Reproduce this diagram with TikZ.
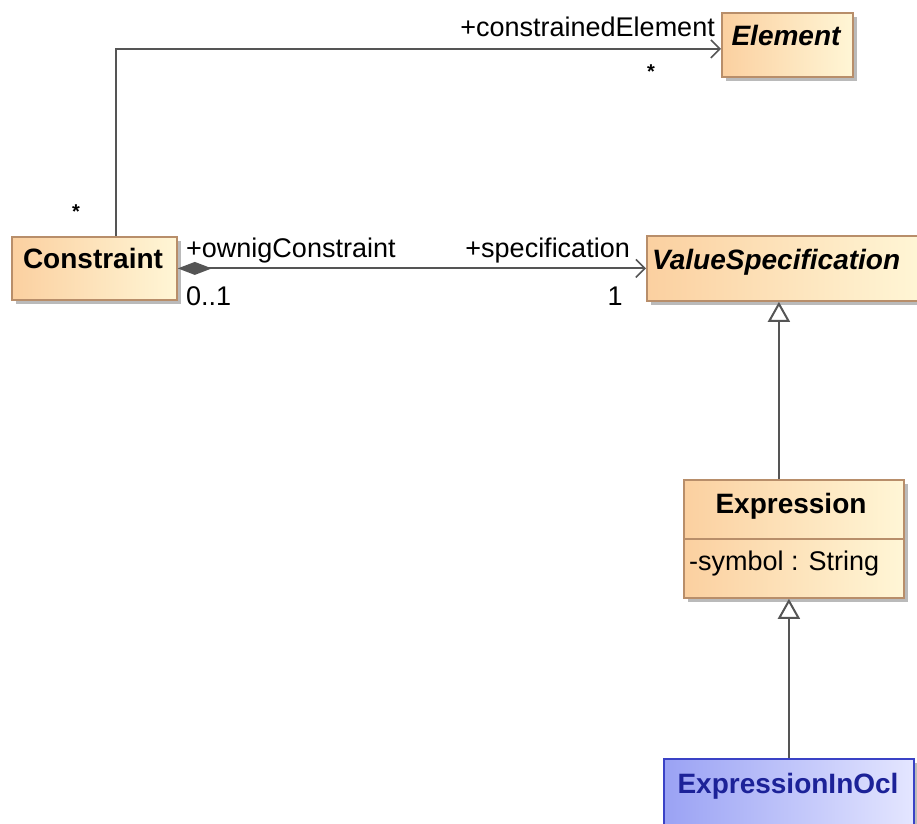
\documentclass[tikz,border=0pt]{standalone}
\usepackage{fontspec}
\setmainfont{Liberation Sans}
\usetikzlibrary{arrows.meta,shadows}
\definecolor{orL}{HTML}{FBD0A0}
\definecolor{orR}{HTML}{FFF6D6}
\definecolor{orB}{HTML}{B88E6A}
\definecolor{blL}{HTML}{9AA2F4}
\definecolor{blR}{HTML}{E4E6FF}
\definecolor{blB}{HTML}{3A42C6}
\definecolor{blT}{HTML}{1C2298}
\definecolor{lnG}{HTML}{555555}
\begin{document}
\begin{tikzpicture}[x=1pt,y=-1pt,
  box/.style={rectangle, inner sep=0pt, anchor=north west, line width=1.8pt,
    drop shadow={shadow xshift=4pt, shadow yshift=-4pt, fill=black!45, opacity=0.6}},
  cls/.style={box, draw=orB, left color=orL, right color=orR},
  ocls/.style={box, draw=blB, left color=blL, right color=blR},
  nm/.style={inner sep=0pt, anchor=base, font=\fontsize{28}{30}\selectfont\bfseries},
  lbl/.style={inner sep=0pt, font=\fontsize{27}{30}\selectfont},
  stl/.style={inner sep=0pt, font=\fontsize{20}{22}\selectfont\bfseries},
  ln/.style={draw=lnG, line width=2pt},
  gen/.style={ln, -{Triangle[open, length=20pt, width=22pt, fill=white]}},
  barb/.style={-{Straight Barb[length=9pt, width=18pt, line width=1.6pt]}}
]
\useasboundingbox (0,0) rectangle (917,823);

% boxes
\node[cls, minimum width=131pt, minimum height=64pt] (elem) at (721,12) {};
\node[cls, minimum width=165pt, minimum height=63pt] (cons) at (11,236) {};
\node[cls, minimum width=276pt, minimum height=65pt] (vs) at (646,235) {};
\node[cls, minimum width=220pt, minimum height=118pt] (expr) at (683,479) {};
\node[ocls, minimum width=250pt, minimum height=80pt] (ocl) at (663,758) {};
\draw[draw=orB, line width=1.8pt] ([yshift=-60pt]expr.north west) -- ([yshift=-60pt]expr.north east);

% names
\node[nm] (elemT) at (786,45) {\itshape Element};
\node[nm] (consT) at (93,268) {Constraint};
\node[nm, anchor=base west] (vsT) at (652,269) {\itshape ValueSpecification};
\node[nm] (exprT) at (791,513) {Expression};
\node[lbl, anchor=base west] (exprA) at (689,570) {-symbol : String};
\node[nm, text=blT] (oclT) at (788,793) {ExpressionInOcl};

% connectors
\draw[ln, barb] ([xshift=21.5pt]cons.north) |- ([yshift=-4pt]elem.west);
\draw[ln, {Diamond[length=34pt, width=13pt, fill=lnG]}-{Straight Barb[length=9pt, width=18pt, line width=1.6pt]}] (cons.east) -- (vs.west);
\draw[gen] ([xshift=-15pt]expr.north) -- ([xshift=-15pt]expr.north |- vs.south);
\draw[gen] (ocl.north) -- (ocl.north |- expr.south);

% labels
\node[lbl, anchor=base east] (lce) at (715,36) {+constrainedElement};
\node[stl] (lstar1) at (651,72) {*};
\node[stl] (lstar2) at (76,212) {*};
\node[lbl, anchor=base west] (lown) at (186,257) {+ownigConstraint};
\node[lbl, anchor=base west] (lzo) at (186,305) {0..1};
\node[lbl, anchor=base east] (lspec) at (630,257) {+specification};
\node[lbl, anchor=base] (lone) at (615,305) {1};
\end{tikzpicture}
\end{document}
